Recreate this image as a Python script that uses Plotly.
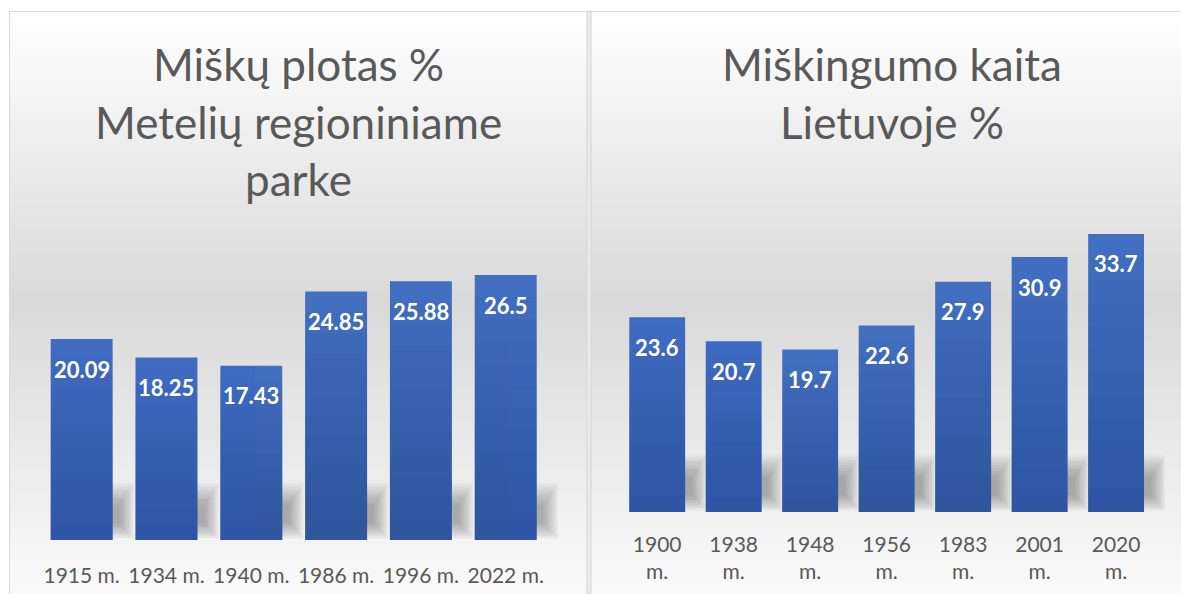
import plotly.graph_objects as go

# ---------------- data ----------------
left_title = ["Miškų plotas %", "Metelių regioniniame", "parke"]
left_categories = ["1915 m.", "1934 m.", "1940 m.", "1986 m.", "1996 m.", "2022 m."]
left_values = [20.09, 18.25, 17.43, 24.85, 25.88, 26.5]
left_labels = ["20.09", "18.25", "17.43", "24.85", "25.88", "26.5"]

right_title = ["Miškingumo kaita", "Lietuvoje %"]
right_categories = ["1900<br>m.", "1938<br>m.", "1948<br>m.", "1956<br>m.", "1983<br>m.", "2001<br>m.", "2020<br>m."]
right_values = [23.6, 20.7, 19.7, 22.6, 27.9, 30.9, 33.7]
right_labels = ["23.6", "20.7", "19.7", "22.6", "27.9", "30.9", "33.7"]

# ---------------- layout constants ----------------
W, H = 1181, 594
FONT = "Lato"
TXT = "#595959"
BAR_TOP = "#4472c4"
BAR_W = 0.73


def px(x):
    return x / W


def py(y):
    return 1 - y / H


fig = go.Figure()

# panels: (xaxis, yaxis, cats, vals, labels, px_per_unit, px_per_category)
panels = [
    ("x", "y", left_categories, left_values, left_labels, 10.0, 86.5),
    ("x2", "y2", right_categories, right_values, right_labels, 8.25, 78.1),
]

# shadow layers: (bottom px, top px, reach px beyond bar edge) - a soft blob
N_SH = 12
shadow_layers = []
for i in range(N_SH):
    f = i / (N_SH - 1)
    shadow_layers.append((1 + 16 * f, 57 - 22 * f, 22 - 15 * f))

for xa, ya, cats, vals, labs, ppu, ppc in panels:
    # soft floor shadow behind bars (decoration)
    for (b_px, t_px, reach) in shadow_layers:
        fig.add_trace(go.Bar(
            x=cats, y=[(t_px - b_px) / ppu] * len(cats), base=b_px / ppu,
            offset=0.1, width=BAR_W / 2 - 0.1 + reach / ppc,
            marker=dict(color="#404040", line=dict(width=0)), opacity=0.034,
            xaxis=xa, yaxis=ya, hoverinfo="skip", showlegend=False))
    # main bars
    fig.add_trace(go.Bar(
        x=cats, y=vals, width=BAR_W,
        marker=dict(color=BAR_TOP, line=dict(width=0)),
        xaxis=xa, yaxis=ya, showlegend=False))
    # vertical darkening toward the bar bottom (gradient look)
    n = 12
    for k in range(1, n + 1):
        fig.add_trace(go.Bar(
            x=cats, y=[v * k / n for v in vals], width=BAR_W,
            marker=dict(color="rgb(28,58,118)", line=dict(width=0)), opacity=0.04,
            xaxis=xa, yaxis=ya, hoverinfo="skip", showlegend=False))
    # data labels
    for c, v, t in zip(cats, vals, labs):
        fig.add_annotation(x=c, y=v, xref=xa, yref=ya, text=t, showarrow=False,
                           yanchor="middle", yshift=-30,
                           font=dict(family=FONT, size=22, color="white", weight="bold"))

# background gradient (white -> gray -> near white), pixel-aligned strips
shapes = []
top, bot = 11, 594
step = 3
y = top
while y < bot:
    y1 = min(y + step, bot)
    t = ((y + y1) / 2 - top) / (bot - top)
    if t < 0.5:
        g = 255 - (255 - 217) * (t / 0.5)
    else:
        g = 217 + (250 - 217) * ((t - 0.5) / 0.5)
    g = int(round(g))
    shapes.append(dict(type="rect", xref="paper", yref="paper", layer="below",
                       x0=px(9), x1=1, y0=py(y1 + 0.5), y1=py(y),
                       fillcolor=f"rgb({g},{g},{g})", line=dict(width=0)))
    y = y1
# borders
shapes.append(dict(type="line", xref="paper", yref="paper", layer="below",
                   x0=px(9), x1=1, y0=py(11.5), y1=py(11.5), line=dict(color="#d9d9d9", width=1)))
shapes.append(dict(type="line", xref="paper", yref="paper", layer="below",
                   x0=px(9.5), x1=px(9.5), y0=py(11), y1=0, line=dict(color="#d9d9d9", width=1)))
shapes.append(dict(type="rect", xref="paper", yref="paper", layer="below",
                   x0=px(587), x1=px(591), y0=0, y1=py(11),
                   fillcolor="#ebebeb", line=dict(color="#d4d4d4", width=1)))

# titles
for i, line in enumerate(left_title):
    fig.add_annotation(x=px(298), y=py(64 + 57.5 * i), xref="paper", yref="paper",
                       text=line, showarrow=False, xanchor="center", yanchor="middle",
                       font=dict(family=FONT, size=44, color=TXT))
for i, line in enumerate(right_title):
    fig.add_annotation(x=px(892), y=py(64 + 57.5 * i), xref="paper", yref="paper",
                       text=line, showarrow=False, xanchor="center", yanchor="middle",
                       font=dict(family=FONT, size=44, color=TXT))

axis_common = dict(showgrid=False, zeroline=False, showline=False, ticks="", fixedrange=True)
tickfont = dict(family=FONT, size=21, color=TXT)

fig.update_layout(
    width=W, height=H, margin=dict(l=0, r=0, t=0, b=0),
    paper_bgcolor="white", plot_bgcolor="rgba(0,0,0,0)",
    barmode="overlay", showlegend=False, shapes=shapes,
    xaxis=dict(domain=[px(82.5 - 43.25), px(515 + 43.25)], anchor="y",
               ticklabelstandoff=21, tickfont=tickfont, **axis_common),
    yaxis=dict(domain=[py(540), py(240)], range=[0, 30], anchor="x",
               showticklabels=False, **axis_common),
    xaxis2=dict(domain=[px(658 - 39.05), px(1126.5 + 39.05)], anchor="y2",
                ticklabelstandoff=18, tickfont=tickfont, **axis_common),
    yaxis2=dict(domain=[py(512), py(182)], range=[0, 40], anchor="x2",
                showticklabels=False, **axis_common),
)

fig.write_html(
    "out.html",
    config={"displayModeBar": False},
    post_script="document.body.style.margin='0';document.body.style.padding='0';"
                "document.body.style.overflow='hidden';",
)
